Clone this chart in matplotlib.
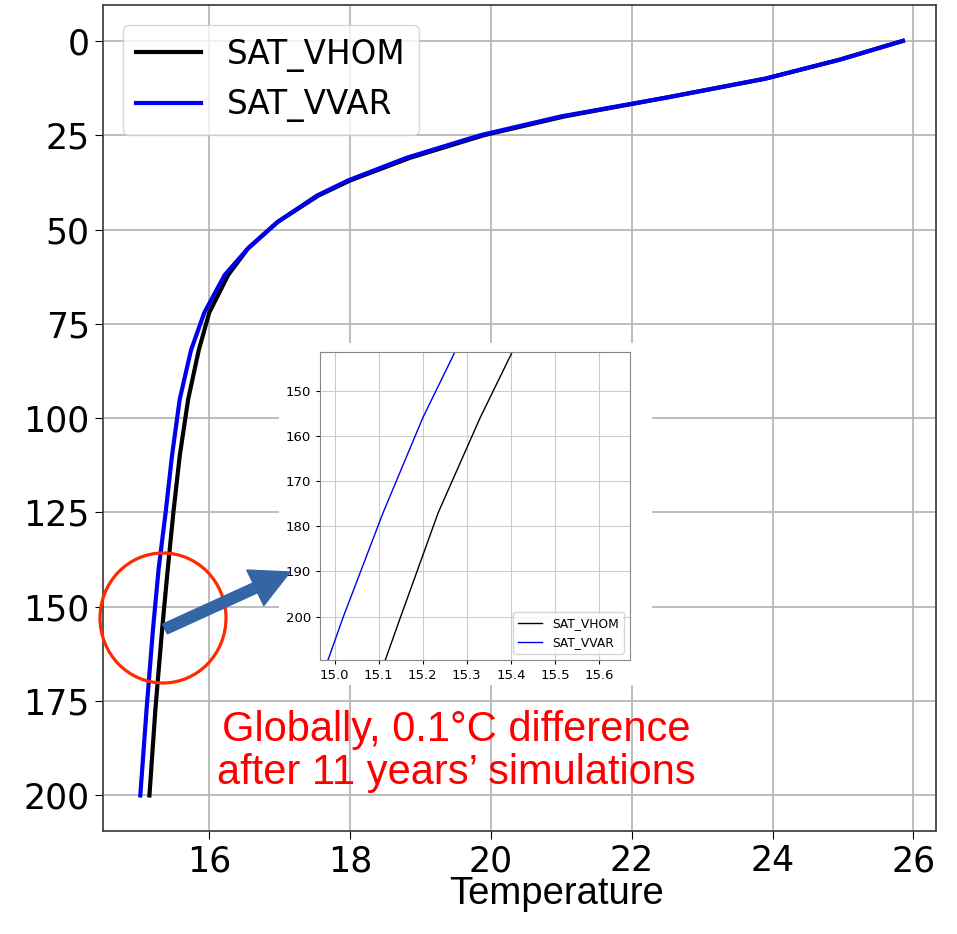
import matplotlib.pyplot as plt
from matplotlib.patches import Ellipse, FancyArrow, Rectangle

# profundidades (m) y temperaturas de los dos experimentos
depth = [0, 2.5, 5, 10, 15, 20, 25, 31, 37, 41, 48, 55, 62, 72, 82, 95,
         110, 125, 140, 156, 177, 200, 222]
sat_vhom = [25.85, 25.4, 24.95, 23.9, 22.5, 21.05, 19.9, 18.85, 18.0, 17.55,
            16.97, 16.55, 16.27, 16.0, 15.85, 15.7, 15.58, 15.49, 15.41,
            15.33, 15.235, 15.15, 15.07]
sat_vvar = [25.85, 25.4, 24.95, 23.9, 22.5, 21.0, 19.85, 18.8, 17.97, 17.53,
            16.97, 16.55, 16.22, 15.93, 15.74, 15.58, 15.47, 15.38, 15.28,
            15.2, 15.11, 15.02, 14.94]
labels = ["SAT_VHOM", "SAT_VVAR"]
note = ["Globally, 0.1°C difference", "after 11 years\u2019 simulations"]

main_max = 200  # el perfil principal llega hasta 200 m

fig = plt.figure(figsize=(9.57, 9.34), dpi=100)
ax = fig.add_axes([0.1076, 0.110, 0.8704, 0.8846])

n = sum(1 for d in depth if d <= main_max)
ax.plot(sat_vhom[:n], depth[:n], color='k', lw=3, label=labels[0])
ax.plot(sat_vvar[:n], depth[:n], color='#0000ee', lw=3, label=labels[1])
ax.set_xlim(14.49, 26.32)
ax.set_ylim(209.5, -9.5)
ax.set_xticks([16, 18, 20, 22, 24, 26])
ax.set_yticks([0, 25, 50, 75, 100, 125, 150, 175, 200])
ax.tick_params(labelsize=25, length=6)
ax.grid(True, color='#b8b8b8', lw=1.3)
for s in ax.spines.values():
    s.set_color('#444444')
    s.set_linewidth(1.3)
ax.legend(loc='upper left', fontsize=23.5, borderaxespad=0.6)

# titulo del eje x (anotacion aparte, en Arial)
fig.text(556 / 957, 1 - 904 / 934, "Temperature", fontsize=27.5,
         family='Liberation Sans', ha='center', va='baseline')

# fondo blanco del recuadro
fig.patches.append(Rectangle((279 / 957, 1 - 685 / 934), 373 / 957, 342 / 934,
                             transform=fig.transFigure, facecolor='white',
                             edgecolor='none', zorder=1))

# grafico ampliado
axi = fig.add_axes([0.3344, 0.2934, 0.3239, 0.3298], zorder=2)
axi.plot(sat_vhom, depth, color='k', lw=1, label=labels[0])
axi.plot(sat_vvar, depth, color='#0000ee', lw=1, label=labels[1])
axi.set_xlim(14.967, 15.67)
axi.set_ylim(209.6, 141.4)
axi.set_xticks([15.0, 15.1, 15.2, 15.3, 15.4, 15.5, 15.6])
axi.set_yticks([150, 160, 170, 180, 190, 200])
axi.tick_params(labelsize=9.5, length=3)
axi.grid(True, color='#cccccc', lw=0.8)
for s in axi.spines.values():
    s.set_color('#888888')
axi.legend(loc='lower right', fontsize=8.8)

# circulo rojo y flecha
fig.patches.append(Ellipse((163 / 957, 1 - 618 / 934), 126 / 957, 130 / 934,
                           transform=fig.transFigure, fill=False,
                           edgecolor='#ff2a00', lw=2.3, zorder=3))
fig.patches.append(FancyArrow(165 / 957, 1 - 629 / 934, 125 / 957, 57 / 934,
                              width=0.0115, head_width=0.042, head_length=0.04,
                              length_includes_head=True, transform=fig.transFigure,
                              color='#3465a4', zorder=3))

fig.text(456 / 957, 1 - 730 / 934, note[0], fontsize=30, color='red',
         family='Liberation Sans', ha='center', va='center', zorder=3)
fig.text(456 / 957, 1 - 773 / 934, note[1], fontsize=30, color='red',
         family='Liberation Sans', ha='center', va='center', zorder=3)

fig.savefig('out.png', dpi=100)
